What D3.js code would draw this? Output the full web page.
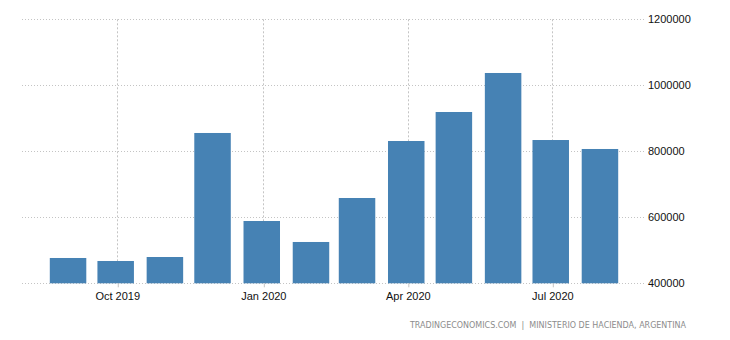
<!DOCTYPE html>
<html>
<head>
<meta charset="utf-8">
<script src="https://cdn.jsdelivr.net/npm/d3@7"></script>
<style>
  html, body { margin: 0; padding: 0; background: #fff; }
  svg { display: block; }
  .axis text { font-family: "Liberation Sans", Arial, sans-serif; font-size: 11px; fill: #111; }
  .axis .domain { display: none; }
</style>
</head>
<body>
<svg id="chart" width="730" height="340"></svg>
<script>
// Monthly values, Aug 2019 – Jul 2020
const months = ["2019-08", "2019-09", "2019-10", "2019-11", "2019-12", "2020-01",
                "2020-02", "2020-03", "2020-04", "2020-05", "2020-06", "2020-07"];
const values = [476700, 467600, 479700, 855500, 588800, 525200,
                658500, 831200, 919100, 1037300, 834200, 807000];

const xTickDates = ["2019-10-01", "2020-01-01", "2020-04-01", "2020-07-01"];
const xTickLabels = ["Oct 2019", "Jan 2020", "Apr 2020", "Jul 2020"];
const yTicks = [400000, 600000, 800000, 1000000, 1200000];

const sourceText = "TRADINGECONOMICS.COM  |  MINISTERIO DE HACIENDA, ARGENTINA";

const parseMonth = d3.timeParse("%Y-%m");
const parseDay = d3.timeParse("%Y-%m-%d");
// each observation sits on the last day of its month
const monthEnd = m => d3.timeDay.offset(d3.timeMonth.offset(parseMonth(m), 1), -1);

const data = months.map((m, i) => ({ date: monthEnd(m), value: values[i] }));
const tickDates = xTickDates.map(parseDay);

const svg = d3.select("#chart");

const plot = { left: 22, right: 646, top: 19.3, bottom: 283.3 };

const x = d3.scaleTime()
  .domain([d3.timeDay.offset(data[0].date, -29), d3.timeDay.offset(data[data.length - 1].date, 29)])
  .range([plot.left, plot.right]);

const y = d3.scaleLinear()
  .domain([400000, 1200000])
  .range([plot.bottom, plot.top]);

const barWidth = 36.5;
const gridColor = "#c4c4c4";

// horizontal grid
svg.append("g")
  .selectAll("line")
  .data(yTicks)
  .join("line")
  .attr("x1", plot.left)
  .attr("x2", plot.right)
  .attr("y1", d => Math.round(y(d)) + 0.5)
  .attr("y2", d => Math.round(y(d)) + 0.5)
  .attr("stroke", gridColor)
  .attr("stroke-width", 1)
  .attr("stroke-dasharray", "1,2");

// vertical grid
svg.append("g")
  .selectAll("line")
  .data(tickDates)
  .join("line")
  .attr("x1", d => Math.round(x(d)) + 0.5)
  .attr("x2", d => Math.round(x(d)) + 0.5)
  .attr("y1", plot.top)
  .attr("y2", plot.bottom)
  .attr("stroke", gridColor)
  .attr("stroke-width", 1)
  .attr("stroke-dasharray", "2,2");

// bars
svg.append("g")
  .selectAll("rect")
  .data(data)
  .join("rect")
  .attr("x", d => x(d.date) - barWidth / 2)
  .attr("width", barWidth)
  .attr("y", d => y(d.value))
  .attr("height", d => y(400000) - y(d.value))
  .attr("fill", "#4682b4");

// y axis on the right
const yAxis = d3.axisRight(y)
  .tickValues(yTicks)
  .tickFormat(d3.format("d"))
  .tickSize(0)
  .tickPadding(2);

svg.append("g")
  .attr("class", "axis")
  .attr("transform", `translate(${plot.right},0)`)
  .call(yAxis);

// x axis
const xAxis = d3.axisBottom(x)
  .tickValues(tickDates)
  .tickFormat((d, i) => xTickLabels[i])
  .tickSize(4)
  .tickPadding(5);

const gx = svg.append("g")
  .attr("class", "axis")
  .attr("transform", `translate(0,${plot.bottom})`)
  .call(xAxis);
gx.selectAll(".tick line")
  .attr("stroke", gridColor)
  .attr("transform", "translate(0.5,0)");

// source line
svg.append("text")
  .attr("x", 686)
  .attr("y", 328)
  .attr("text-anchor", "end")
  .attr("font-family", "DejaVu Sans, Verdana, sans-serif")
  .attr("font-size", "8px")
  .attr("fill", "#8c8c8c")
  .attr("textLength", 276)
  .attr("lengthAdjust", "spacingAndGlyphs")
  .style("white-space", "pre")
  .text(sourceText);
</script>
</body>
</html>
